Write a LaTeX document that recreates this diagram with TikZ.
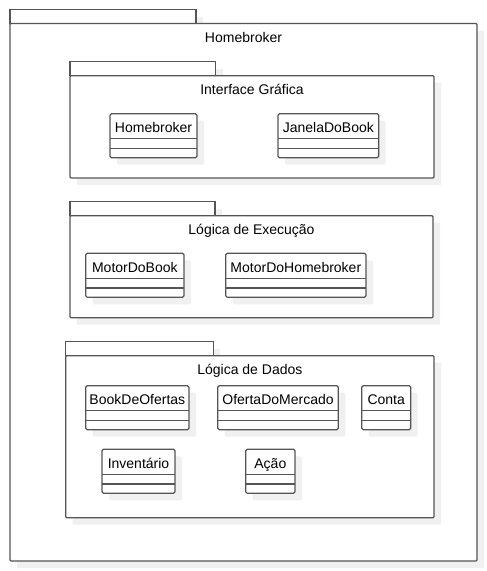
\documentclass[tikz,border=0pt]{standalone}
\usepackage{fontspec}
\setmainfont{Liberation Sans}
\usetikzlibrary{shadows}
\definecolor{umlline}{RGB}{85,85,85}
\definecolor{umlshadow}{RGB}{240,240,240}

\begin{document}
\begin{tikzpicture}[x=1pt,y=-1pt,
    font=\fontsize{14}{16}\selectfont,
    umlshade/.style={drop shadow={shadow xshift=7pt,shadow yshift=-7pt,fill=umlshadow,opacity=1}},
    pkgtab/.style={draw=umlline,line width=1.2pt,fill=white,umlshade,anchor=south west,minimum height=14pt,inner sep=0pt,outer sep=0pt},
    pkg/.style={draw=umlline,line width=1.2pt,fill=white,umlshade,rounded corners=1pt,anchor=north west,inner sep=0pt,outer sep=0pt,text height=19pt},
    cls/.style={draw=umlline,line width=1.2pt,fill=white,umlshade,rounded corners=1.5pt,anchor=north west,inner sep=0pt,outer sep=0pt,text height=19pt,text depth=25pt}]
\useasboundingbox (0,0) rectangle (487,571);

% Outer package
\node[pkgtab,minimum width=186pt] (hometab) at (10,23.5) {};
\node[pkg,minimum width=467pt,text depth=518.5pt] (home) at (10,23.5) {Homebroker};

% Interface Grafica
\node[pkgtab,minimum width=145.7pt] (guitab) at (70,75.7) {};
\node[pkg,minimum width=364pt,text depth=83.3pt] (gui) at (70,75.7) {Interface Gráfica};
\node[cls,minimum width=87pt] (hb) at (110,113.7) {Homebroker};
\node[cls,minimum width=100.7pt] (janela) at (278,113.7) {JanelaDoBook};

% Logica de Execucao
\node[pkgtab,minimum width=145pt] (exectab) at (70,215.7) {};
\node[pkg,minimum width=363pt,text depth=83pt] (exec) at (70,215.7) {Lógica de Execução};
\node[cls,minimum width=98.3pt] (motorbook) at (85.7,253.3) {MotorDoBook};
\node[cls,minimum width=140.3pt] (motorhb) at (225.7,253.3) {MotorDoHomebroker};

% Logica de Dados
\node[pkgtab,minimum width=147.6pt] (dadostab) at (65.7,355.7) {};
\node[pkg,minimum width=368.3pt,text depth=143pt] (dados) at (65.7,355.7) {Lógica de Dados};
\node[cls,minimum width=103.3pt] (book) at (85.7,385.7) {BookDeOfertas};
\node[cls,minimum width=120.6pt] (oferta) at (217.7,385.7) {OfertaDoMercado};
\node[cls,minimum width=49pt] (conta) at (361.7,385.7) {Conta};
\node[cls,minimum width=73pt] (inventario) at (102,449.3) {Inventário};
\node[cls,minimum width=49.3pt] (acao) at (245.7,449.3) {Ação};

% Compartments
\foreach \c in {hb,janela,motorbook,motorhb,book,oferta,conta,inventario,acao} {
  \draw[umlline,line width=1.2pt] ([yshift=-25pt]\c.north west) -- ([yshift=-25pt]\c.north east);
  \draw[umlline,line width=1.2pt] ([yshift=-34.6pt]\c.north west) -- ([yshift=-34.6pt]\c.north east);
}
\end{tikzpicture}
\end{document}
